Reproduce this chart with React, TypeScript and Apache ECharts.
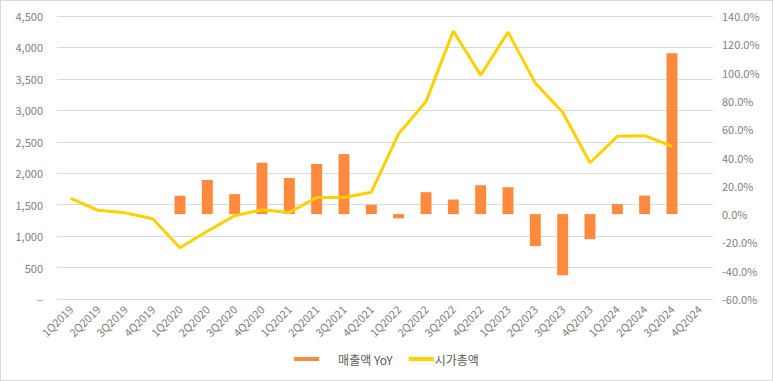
import React, { useEffect, useRef } from "react";
import * as echarts from "echarts";

const categories = [
  "1Q2019", "2Q2019", "3Q2019", "4Q2019",
  "1Q2020", "2Q2020", "3Q2020", "4Q2020",
  "1Q2021", "2Q2021", "3Q2021", "4Q2021",
  "1Q2022", "2Q2022", "3Q2022", "4Q2022",
  "1Q2023", "2Q2023", "3Q2023", "4Q2023",
  "1Q2024", "2Q2024", "3Q2024", "4Q2024",
];

// 매출액 YoY (%), right axis
const salesYoY: (number | null)[] = [
  null, null, null, null,
  12.9, 24.1, 14.1, 36.3,
  25.5, 35.4, 42.4, 6.6,
  -3.0, 15.5, 10.3, 20.4,
  19.0, -22.6, -43.2, -17.7,
  7.1, 13.1, 113.7, null,
];

// 시가총액, left axis
const marketCap: (number | null)[] = [
  1600, 1410, 1370, 1275,
  815, 1078, 1325, 1420,
  1377, 1614, 1614, 1698,
  2629, 3139, 4259, 3560,
  4243, 3433, 2970, 2166,
  2587, 2597, 2429, null,
];

const leftTicks = { min: 0, max: 4500, interval: 500 };
const rightTicks = { min: -60, max: 140, interval: 20 };

const FONT = "'Noto Sans CJK KR', 'Noto Sans', sans-serif";

export default function App() {
  const ref = useRef<HTMLDivElement>(null);

  useEffect(() => {
    document.body.style.margin = "0";
    if (!ref.current) return;
    const chart = echarts.init(ref.current, undefined, { renderer: "svg" });
    chart.setOption({
      animation: false,
      backgroundColor: "#ffffff",
      grid: { left: 56, right: 59, top: 15, bottom: 81, containLabel: false },
      legend: {
        bottom: 10,
        left: "center",
        itemWidth: 25,
        itemHeight: 4,
        itemGap: 16,
        formatter: (name: string) =>
          name === "매출액 YoY" ? "{a|" + name + "}" : "{b|" + name + "}",
        textStyle: {
          color: "#595959",
          fontSize: 12,
          fontFamily: FONT,
          rich: {
            a: { color: "#595959", fontSize: 12, fontFamily: FONT, padding: [0, 0, 0, 14] },
            b: { color: "#595959", fontSize: 12, fontFamily: FONT, padding: [0, 0, 0, -4] },
          },
        },
        data: [
          { name: "매출액 YoY", icon: "rect" },
          { name: "시가총액", icon: "rect" },
        ],
      },
      xAxis: {
        type: "category",
        data: categories,
        axisLine: { show: false },
        axisTick: { show: false },
        axisLabel: {
          rotate: 45,
          color: "#808080",
          fontSize: 11,
          fontFamily: FONT,
          margin: 8,
          interval: 0,
        },
      },
      yAxis: [
        {
          type: "value",
          min: leftTicks.min,
          max: leftTicks.max,
          interval: leftTicks.interval,
          axisLine: { show: false },
          axisTick: { show: false },
          splitLine: { lineStyle: { color: "#d9d9d9", width: 1 } },
          axisLabel: {
            color: "#808080",
            fontSize: 11,
            fontFamily: FONT,
            margin: 14,
            formatter: (v: number) => (v === 0 ? "–" : v.toLocaleString("en-US")),
          },
        },
        {
          type: "value",
          min: rightTicks.min,
          max: rightTicks.max,
          interval: rightTicks.interval,
          axisLine: { show: false },
          axisTick: { show: false },
          splitLine: { show: false },
          axisLabel: {
            color: "#808080",
            fontSize: 11,
            fontFamily: FONT,
            margin: 9,
            formatter: (v: number) => v.toFixed(1) + "%",
          },
        },
      ],
      series: [
        {
          name: "매출액 YoY",
          type: "bar",
          yAxisIndex: 1,
          data: salesYoY,
          barWidth: 11,
          itemStyle: { color: "#FF8A3D" },
          z: 1,
        },
        {
          name: "시가총액",
          type: "line",
          yAxisIndex: 0,
          data: marketCap,
          symbol: "none",
          lineStyle: { color: "#FFD000", width: 3 },
          itemStyle: { color: "#FFD000" },
          z: 3,
        },
      ],
    });
    return () => chart.dispose();
  }, []);

  return (
    <div
      style={{
        position: "absolute",
        left: 0,
        top: 0,
        width: 773,
        height: 381,
        boxSizing: "border-box",
        border: "1px solid #d9d9d9",
        background: "#fff",
      }}
    >
      <div ref={ref} style={{ width: 771, height: 379 }} />
    </div>
  );
}
